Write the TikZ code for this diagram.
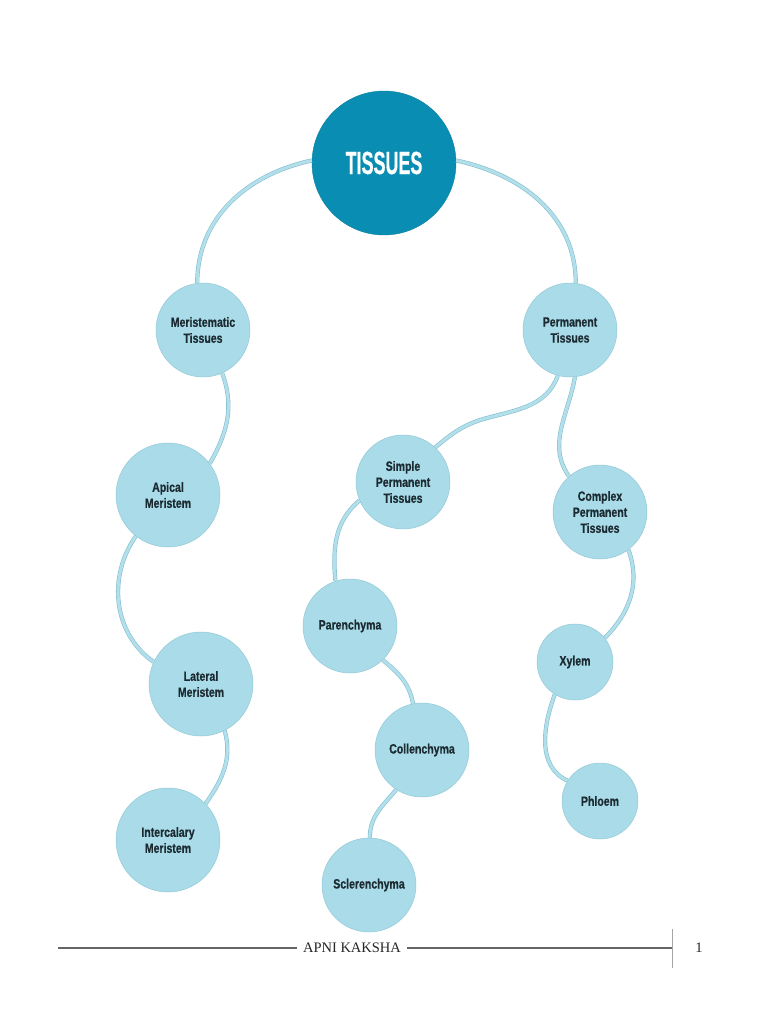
\documentclass[tikz,border=0pt]{standalone}
\usepackage{fontspec}
\setmainfont{Liberation Serif}
\newfontfamily\nodefont{Liberation Sans}[FakeStretch=0.78, BoldFeatures={FakeBold=0.6}]
\newfontfamily\titlefont{Liberation Sans}[FakeStretch=0.56, BoldFeatures={FakeBold=0.5}]
\definecolor{dark}{HTML}{0A8DB2}
\definecolor{lightn}{HTML}{A9DCE8}
\definecolor{nedge}{HTML}{93C8D6}
\definecolor{cfill}{HTML}{B2DFEA}
\definecolor{cedge}{HTML}{84BFD0}
\definecolor{txt}{HTML}{1C2A32}
\tikzset{
  bub/.style={circle, fill=lightn, draw=nedge, line width=0.5pt, inner sep=0pt,
    minimum size=#1, align=center, text=txt, font=\nodefont\bfseries\fontsize{13.5}{16}\selectfont},
  link/.style={draw=cedge, line width=0.6pt, double=cfill, double distance=3pt},
  rule/.style={draw=black!60, line width=1.3pt}
}
\begin{document}
\begin{tikzpicture}[x=1pt,y=1pt]
\useasboundingbox (0,0) rectangle (768,-1024);
% nodes
\node[circle, fill=dark, draw=dark!90!black, line width=0.4pt, minimum size=144pt, inner sep=0pt,
  text=white, font=\titlefont\bfseries\fontsize{32}{32}\selectfont] (tis) at (384,-163) {TISSUES};
\node[bub=94pt] (mer) at (203,-330) {Meristematic\\Tissues};
\node[bub=94pt] (per) at (570,-330) {Permanent\\Tissues};
\node[bub=104pt] (api) at (168,-495) {Apical\\Meristem};
\node[bub=104pt] (lat) at (201,-684) {Lateral\\Meristem};
\node[bub=104pt] (int) at (168,-840) {Intercalary\\Meristem};
\node[bub=94pt] (sim) at (403,-482) {Simple\\Permanent\\Tissues};
\node[bub=94pt] (par) at (350,-626) {Parenchyma};
\node[bub=94pt] (col) at (422,-750) {Collenchyma};
\node[bub=94pt] (scl) at (369,-885) {Sclerenchyma};
\node[bub=94pt] (com) at (600,-512) {Complex\\Permanent\\Tissues};
\node[bub=76pt] (xyl) at (575,-662) {Xylem};
\node[bub=76pt] (phl) at (600,-801) {Phloem};
\coordinate (m1) at (487,-418);
% connectors
\draw[link] (tis.178) to[out=192,in=90] (mer.97);
\draw[link] (tis.2) to[out=-12,in=90] (per.83);
\draw[link] (mer.-66) to[out=-70,in=60] (api.37);
\draw[link] (api.-128) to[out=-125,in=145] (lat.155);
\draw[link] (lat.-63) to[out=-75,in=55] (int.44);
\draw[link] (per.-105) to[out=-110,in=15] (m1) to[out=195,in=40] (sim.47);
\draw[link] (per.-84) to[out=-100,in=125] (com.131);
\draw[link] (sim.-157) to[out=-140,in=95] (par.108);
\draw[link] (par.-46) to[out=-40,in=100] (col.101);
\draw[link] (col.-123) to[out=-130,in=90] (scl.89);
\draw[link] (com.-53) to[out=-70,in=45] (xyl.39);
\draw[link] (xyl.-122) to[out=-110,in=155] (phl.148);
% footer
\node[font=\fontsize{14.5}{16}\selectfont, text=black!85, inner sep=6pt] (ft) at (352,-948) {APNI KAKSHA};
\coordinate (fl) at (58,-948);
\coordinate (fr) at (672,-948);
\coordinate (vt) at (672,-929);
\coordinate (vb) at (672,-968);
\draw[rule] (fl) -- (ft.west);
\draw[rule] (ft.east) -- (fr);
\draw[draw=black!35, line width=1pt] (vt) -- (vb);
\node[font=\fontsize{14.5}{16}\selectfont, text=black!85] (pg) at (699,-948) {1};
\end{tikzpicture}
\end{document}
